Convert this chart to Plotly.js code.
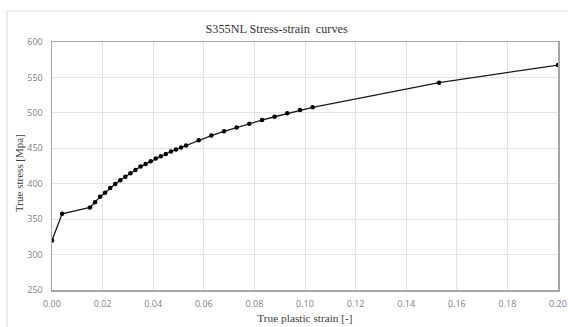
<!DOCTYPE html>
<html>
<head>
<meta charset="utf-8">
<script src="https://cdn.plot.ly/plotly-3.0.1.min.js"></script>
<style>html,body{margin:0;padding:0;background:#fff;}#chart{width:568px;height:327px;}</style>
</head>
<body>
<div id="chart"></div>
<script>
const strain = [0, 0.004, 0.015, 0.017, 0.019, 0.021, 0.023, 0.025, 0.027, 0.029, 0.031, 0.033, 0.035, 0.037, 0.039, 0.041, 0.043, 0.045, 0.047, 0.049, 0.051, 0.053, 0.058, 0.063, 0.068, 0.073, 0.078, 0.083, 0.088, 0.093, 0.098, 0.103, 0.153, 0.200];
const stress = [320, 357.5, 366.5, 374, 381.7, 387.4, 393.9, 399.6, 404.8, 410, 414.7, 419.4, 424.2, 427.9, 431.7, 435.5, 438.8, 442, 445.5, 448.3, 451.1, 454, 461.5, 468, 474, 479.4, 484.5, 489.8, 494.5, 499.3, 504, 507.9, 542.6, 567.5];
const chartTitle = "S355NL Stress-strain  curves";
const xTitle = "True plastic strain [-]";
const yTitle = "True stress [Mpa]";

const tickFont = {family: "Open Sans, Liberation Sans, sans-serif", size: 9, color: "#7f7f7f"};
const serif = "Liberation Serif, Times New Roman, serif";

Plotly.newPlot("chart", [{
  x: strain, y: stress, type: "scatter", mode: "lines+markers",
  line: {color: "#1a1a1a", width: 1.3},
  marker: {color: "#000000", size: 4.5},
  showlegend: false
}], {
  width: 568, height: 327,
  margin: {l: 52, r: 10, t: 42, b: 37},
  paper_bgcolor: "#ffffff", plot_bgcolor: "#ffffff",
  title: {text: chartTitle, font: {family: serif, size: 12.2, color: "#333333"}, x: 0.487, xanchor: "center", y: 0.913, yanchor: "middle"},
  xaxis: {
    range: [0, 0.2], dtick: 0.02, tick0: 0, tickformat: ".2f",
    showgrid: true, gridcolor: "#e3e3e3", gridwidth: 1,
    showline: true, linecolor: "#a6a6a6", linewidth: 1.5, mirror: true,
    zeroline: false, ticks: "", tickfont: tickFont, ticklabelstandoff: 5,
    title: {text: xTitle, font: {family: serif, size: 11.3, color: "#404040"}, standoff: 5}
  },
  yaxis: {
    range: [250, 600], dtick: 50, tick0: 250,
    showgrid: true, gridcolor: "#e3e3e3", gridwidth: 1,
    showline: true, linecolor: "#a6a6a6", linewidth: 1.5, mirror: true,
    zeroline: false, ticks: "", tickfont: tickFont, ticklabelstandoff: 6
  },
  annotations: [{
    text: yTitle, xref: "paper", yref: "paper", x: 0, y: 0.5,
    xanchor: "center", yanchor: "middle", xshift: -33, yshift: -7,
    textangle: -90, showarrow: false,
    font: {family: serif, size: 11, color: "#404040"}
  }],
  shapes: [{
    type: "rect", xref: "paper", yref: "paper",
    x0: -0.089, x1: 1.1, y0: -0.3, y1: 1.125,
    line: {color: "#d9d9d9", width: 1}, fillcolor: "rgba(0,0,0,0)", layer: "below"
  }]
}, {staticPlot: true, displayModeBar: false});
</script>
</body>
</html>
